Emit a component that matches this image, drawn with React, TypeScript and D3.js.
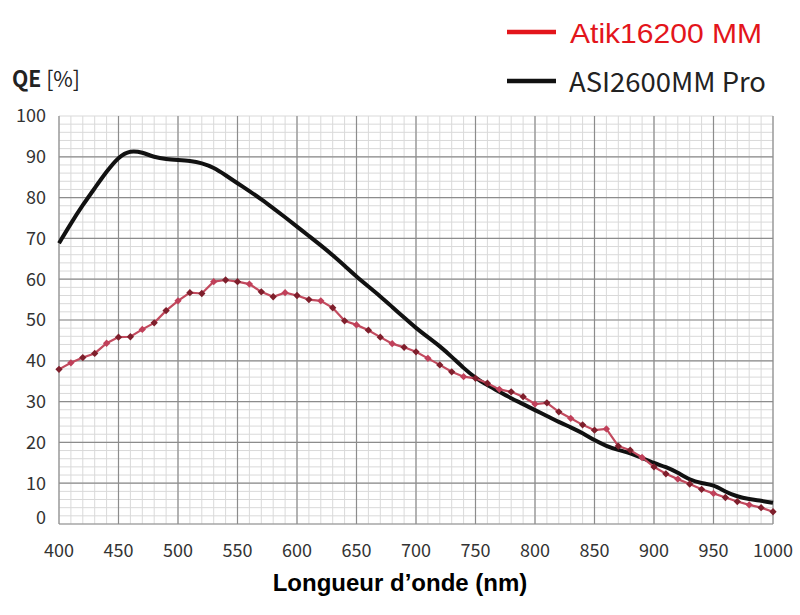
import React, { useRef, useEffect } from 'react';
import * as d3 from 'd3';

const wavelengths = [
    400, 410, 420, 430, 440, 450, 460, 470, 480, 490, 500, 510, 520, 530, 540, 550, 560, 570, 580, 590,
    600, 610, 620, 630, 640, 650, 660, 670, 680, 690, 700, 710, 720, 730, 740, 750, 760, 770, 780, 790,
    800, 810, 820, 830, 840, 850, 860, 870, 880, 890, 900, 910, 920, 930, 940, 950, 960, 970, 980, 990,
    1000,
];

const asiQE = [
    68.8, 73.7, 78.2, 82.3, 86.4, 90, 91.6, 91.1, 89.9, 89.4, 89.2, 89, 88.5, 87.4, 85.5, 83.5, 81.6, 79.6,
    77.4, 75.2, 72.9, 70.6, 68.3, 65.9, 63.3, 60.6, 58.2, 55.8, 53.2, 50.6, 48, 45.8, 43.6, 41, 38.2, 35.8,
    34, 32.4, 30.8, 29.4, 27.9, 26.5, 25, 23.7, 22.3, 20.5, 19.1, 18.1, 17.4, 16.2, 14.9, 14, 12.6, 10.8,
    10, 9.6, 7.9, 6.7, 6.1, 5.7, 5.2,
];

const atikQE = [
    37.9, 39.5, 40.8, 41.8, 44.3, 45.8, 45.9, 47.7, 49.3, 52.3, 54.7, 56.7, 56.5, 59.4, 59.8, 59.4, 58.8,
    56.9, 55.7, 56.7, 56, 55, 54.7, 53, 49.8, 48.8, 47.5, 45.8, 44.2, 43.3, 42.2, 40.6, 39, 37.3, 36.1,
    35.7, 34.5, 33, 32.4, 31.2, 29.4, 29.7, 27.5, 25.9, 24.3, 23, 23.3, 19.1, 18.1, 16.3, 14, 12.3, 11,
    9.8, 8.5, 7.5, 6.5, 5.5, 4.7, 4, 3,
];

const xTicks = [400, 450, 500, 550, 600, 650, 700, 750, 800, 850, 900, 950, 1000];
const yTicks = [0, 10, 20, 30, 40, 50, 60, 70, 80, 90, 100];

const seriesNames = ['Atik16200 MM', 'ASI2600MM Pro'];

const cjk = '"Noto Sans CJK SC", "Noto Sans", sans-serif';

const App: React.FC = () => {
    const svgRef = useRef<SVGSVGElement | null>(null);

    useEffect(() => {
        document.body.style.margin = '0';
        const svg = d3.select(svgRef.current);
        svg.selectAll('*').remove();

        const x = d3.scaleLinear().domain([400, 1000]).range([59, 773]);
        const y = d3.scaleLinear().domain([0, 100]).range([524, 116]);

        const grid = svg.append('g');
        // minor grid
        grid
            .selectAll('line.mx')
            .data(x.ticks(60))
            .join('line')
            .attr('x1', d => x(d))
            .attr('x2', d => x(d))
            .attr('y1', y(0))
            .attr('y2', y(100))
            .attr('stroke', '#d9d9d9')
            .attr('stroke-width', 1);
        grid
            .selectAll('line.my')
            .data(y.ticks(50))
            .join('line')
            .attr('x1', x(400))
            .attr('x2', x(1000))
            .attr('y1', d => y(d))
            .attr('y2', d => y(d))
            .attr('stroke', '#d9d9d9')
            .attr('stroke-width', 1);
        // major grid
        svg
            .append('g')
            .selectAll('line')
            .data(xTicks)
            .join('line')
            .attr('x1', d => x(d))
            .attr('x2', d => x(d))
            .attr('y1', y(0))
            .attr('y2', y(100))
            .attr('stroke', '#8c8c8c')
            .attr('stroke-width', 1.2);
        svg
            .append('g')
            .selectAll('line')
            .data(yTicks.filter(d => d < 100))
            .join('line')
            .attr('x1', x(400))
            .attr('x2', x(1000))
            .attr('y1', d => y(d))
            .attr('y2', d => y(d))
            .attr('stroke', '#8c8c8c')
            .attr('stroke-width', 1.2);

        // tick labels
        svg
            .append('g')
            .selectAll('text')
            .data(yTicks)
            .join('text')
            .attr('x', 46)
            .attr('y', d => (d === 0 ? y(d) - 6 : y(d)))
            .attr('dy', '0.35em')
            .attr('text-anchor', 'end')
            .attr('font-family', cjk)
            .attr('font-size', 18)
            .attr('fill', '#333')
            .text(d => d);
        svg
            .append('g')
            .selectAll('text')
            .data(xTicks)
            .join('text')
            .attr('x', d => x(d))
            .attr('y', 557)
            .attr('text-anchor', 'middle')
            .attr('font-family', cjk)
            .attr('font-size', 18)
            .attr('fill', '#333')
            .text(d => d);

        const pts = wavelengths.map((w, i) => ({ w, asi: asiQE[i], atik: atikQE[i] }));

        // ASI curve
        svg
            .append('path')
            .datum(pts)
            .attr('fill', 'none')
            .attr('stroke', '#111')
            .attr('stroke-width', 4)
            .attr('stroke-linejoin', 'round')
            .attr(
                'd',
                d3
                    .line<any>()
                    .x(d => x(d.w))
                    .y(d => y(d.asi))
                    .curve(d3.curveBasis)
            );

        // Atik curve
        svg
            .append('path')
            .datum(pts)
            .attr('fill', 'none')
            .attr('stroke', '#c24a5e')
            .attr('stroke-width', 2.2)
            .attr(
                'd',
                d3
                    .line<any>()
                    .x(d => x(d.w))
                    .y(d => y(d.atik))
            );
        svg
            .append('g')
            .selectAll('path')
            .data(pts)
            .join('path')
            .attr('transform', d => `translate(${x(d.w)},${y(d.atik)})`)
            .attr('d', d3.symbol(d3.symbolDiamond2, 34)())
            .attr('fill', (d, i) => (i % 3 === 1 ? '#c0405a' : '#7e1f2c'));

        // axis titles
        const qe = svg
            .append('text')
            .attr('x', 12)
            .attr('y', 87)
            .attr('font-family', cjk)
            .attr('font-size', 22)
            .attr('fill', '#222')
            .attr('textLength', 68)
            .attr('lengthAdjust', 'spacingAndGlyphs');
        qe.append('tspan').attr('font-weight', 'bold').text('QE ');
        qe.append('tspan').text('[%]');

        svg
            .append('text')
            .attr('x', 400)
            .attr('y', 591)
            .attr('text-anchor', 'middle')
            .attr('font-family', '"Liberation Sans", Arial, sans-serif')
            .attr('font-weight', 'bold')
            .attr('font-size', 24)
            .attr('fill', '#000')
            .text('Longueur d’onde (nm)');

        // legend
        const legend = svg.append('g');
        const legendColors = ['#e3151b', '#111'];
        const legendY = [32, 81];
        legend
            .selectAll('line')
            .data(seriesNames)
            .join('line')
            .attr('x1', 507)
            .attr('x2', 556)
            .attr('y1', (d, i) => legendY[i])
            .attr('y2', (d, i) => legendY[i])
            .attr('stroke', (d, i) => legendColors[i])
            .attr('stroke-width', 4.5);
        legend
            .append('text')
            .attr('x', 570)
            .attr('y', 43)
            .attr('font-family', '"Liberation Sans", Arial, sans-serif')
            .attr('font-size', 28)
            .attr('fill', legendColors[0])
            .attr('textLength', 192)
            .attr('lengthAdjust', 'spacingAndGlyphs')
            .text(seriesNames[0]);
        legend
            .append('text')
            .attr('x', 569)
            .attr('y', 92)
            .attr('font-family', cjk)
            .attr('font-size', 27)
            .attr('fill', '#222')
            .attr('textLength', 197)
            .attr('lengthAdjust', 'spacingAndGlyphs')
            .text(seriesNames[1]);
    }, []);

    return <svg ref={svgRef} width="800" height="615" style={{ display: 'block' }} />;
};

export default App;
